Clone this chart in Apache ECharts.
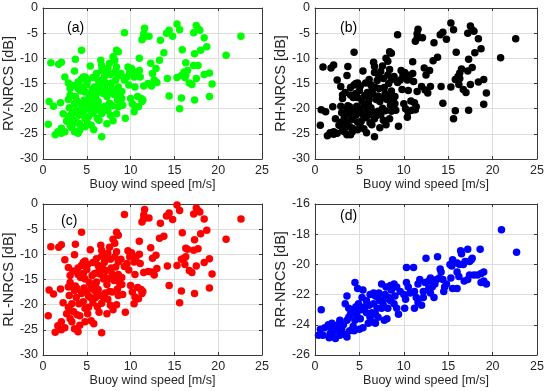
<!DOCTYPE html>
<html><head><meta charset="utf-8">
<script src="https://cdn.jsdelivr.net/npm/echarts@6/dist/echarts.min.js"></script>
<style>html,body{margin:0;padding:0;background:#fff}#c{width:550px;height:391px}</style>
</head><body><div id="c"></div>
<script>
// Buoy wind speed [m/s] vs NRCS [dB]
const rvData = [[0.9,-10.9],[0.7,-18.6],[0.6,-23.1],[1.2,-19.5],[1.8,-11.2],[2.1,-10.8],[2.0,-18.8],[1.4,-25.2],[1.7,-24.6],[2.1,-23.9],[2.5,-13.7],[2.9,-14.9],[3.1,-16.0],[3.1,-17.3],[2.9,-18.2],[3.3,-21.0],[2.9,-21.6],[3.5,-22.3],[3.1,-23.3],[3.7,-10.2],[3.6,-12.5],[4.0,-14.7],[4.4,-14.1],[4.6,-13.7],[4.4,-8.4],[3.7,-17.6],[3.6,-19.0],[3.8,-20.3],[4.1,-21.3],[4.0,-24.9],[3.6,-24.6],[4.2,-24.3],[2.5,-24.6],[2.1,-24.9],[4.6,-15.7],[4.8,-16.7],[4.7,-18.3],[5.0,-19.0],[4.8,-13.7],[5.1,-14.3],[4.6,-20.6],[4.8,-21.9],[5.1,-22.9],[4.8,-23.6],[5.3,-17.3],[5.5,-18.3],[5.2,-19.6],[5.7,-20.9],[5.5,-23.3],[5.2,-21.6],[5.9,-15.7],[6.1,-17.0],[6.1,-13.0],[6.3,-14.3],[6.3,-18.6],[6.5,-19.6],[6.7,-21.0],[6.4,-22.3],[6.6,-10.4],[6.7,-11.4],[6.7,-12.4],[6.7,-25.6],[7.0,-13.7],[7.2,-15.0],[7.1,-16.3],[7.3,-17.6],[7.4,-12.0],[7.2,-12.7],[7.6,-18.9],[7.4,-20.3],[7.7,-21.3],[8.0,-9.7],[8.2,-10.4],[8.4,-8.4],[8.6,-8.7],[8.4,-11.7],[8.2,-12.7],[8.6,-13.5],[8.3,-14.3],[8.6,-15.7],[8.4,-16.7],[8.8,-17.6],[8.5,-18.3],[8.6,-19.6],[8.4,-21.0],[9.1,-19.3],[9.4,-21.9],[8.9,-13.0],[9.3,-14.3],[9.3,-4.9],[9.7,-11.7],[9.9,-12.7],[9.6,-13.7],[10.2,-12.4],[10.4,-13.7],[10.5,-15.7],[10.2,-19.0],[10.5,-19.6],[10.4,-20.6],[10.8,-17.6],[10.9,-19.6],[10.6,-13.0],[11.0,-12.4],[11.0,-10.0],[11.1,-13.7],[11.2,-18.0],[11.4,-18.3],[11.3,-18.6],[11.5,-15.5],[11.6,-4.0],[11.5,-5.1],[11.3,-6.3],[12.1,-5.6],[12.0,-15.0],[12.3,-11.0],[12.5,-13.0],[12.7,-14.3],[12.9,-12.0],[13.3,-10.4],[13.4,-6.4],[13.8,-8.9],[14.1,-5.0],[14.4,-4.4],[14.8,-5.6],[14.2,-14.0],[14.4,-17.5],[15.3,-3.2],[15.6,-4.3],[15.3,-13.8],[15.8,-13.4],[15.6,-20.0],[15.8,-17.9],[15.9,-8.3],[16.1,-12.7],[16.3,-13.4],[16.2,-13.8],[16.5,-12.4],[16.3,-10.9],[16.7,-14.9],[17.0,-15.2],[17.2,-4.9],[17.5,-3.5],[17.7,-4.1],[17.9,-4.4],[17.3,-9.1],[17.2,-11.4],[17.7,-11.4],[17.3,-18.3],[17.5,-14.0],[18.0,-8.4],[18.4,-5.9],[18.7,-7.7],[18.4,-13.2],[19.0,-12.9],[19.0,-17.6],[19.3,-15.1],[20.9,-9.4],[22.6,-5.6],
[3.3,-23.8],[2.7,-22.5],[3.9,-22.8],[5.6,-16.2],[6.0,-20.3],[6.9,-17.0],[7.8,-14.9],[7.9,-16.0],[6.2,-21.9],[5.8,-24.2],[7.6,-11.0],[9.0,-16.6],[10.0,-18.0],[9.8,-15.3],[12.4,-15.5],[13.0,-14.8],[10.1,-12.0],[4.3,-16.5],[3.4,-15.4],[7.1,-19.5],[8.0,-22.4],[7.3,-23.0],[6.5,-16.0],[5.4,-11.5],[11.5,-5.8],
[2.3,-21.0],[3.0,-19.8],[3.9,-18.5],[4.4,-19.5],[5.9,-19.0],[6.0,-17.8],[6.8,-14.8],[7.5,-16.8],[8.1,-17.2],[5.4,-20.2],[4.2,-23.0],[3.2,-22.4],[6.9,-20.4],[7.9,-19.4],[9.0,-18.0],[5.0,-15.2],[5.7,-13.8],[6.4,-15.3],[4.0,-16.0],[7.7,-13.2]];

const rhData = [[0.9,-11.7],[0.7,-20.2],[0.6,-23.3],[1.2,-20.6],[1.8,-11.9],[2.1,-11.3],[2.0,-19.6],[1.4,-25.4],[1.7,-24.8],[2.1,-24.6],[2.5,-14.3],[2.9,-15.6],[3.1,-17.3],[3.1,-18.0],[2.9,-19.5],[3.3,-21.8],[2.9,-22.7],[3.5,-22.8],[3.1,-24.0],[3.7,-11.6],[3.6,-13.4],[4.0,-15.8],[4.4,-15.3],[4.6,-15.0],[4.4,-8.8],[3.7,-19.4],[3.6,-20.0],[3.8,-21.0],[4.1,-22.2],[4.0,-25.2],[3.6,-25.2],[4.2,-24.6],[2.5,-24.9],[2.1,-25.1],[4.6,-17.0],[4.8,-17.8],[4.7,-19.5],[5.0,-20.0],[4.8,-14.9],[5.1,-15.5],[4.6,-21.3],[4.8,-22.7],[5.1,-23.6],[4.8,-24.2],[5.3,-18.5],[5.5,-19.4],[5.2,-20.7],[5.7,-21.8],[5.5,-24.0],[5.2,-22.5],[5.9,-16.8],[6.1,-18.2],[6.1,-14.2],[6.3,-15.3],[6.3,-19.8],[6.5,-20.6],[6.7,-22.0],[6.4,-23.2],[6.6,-10.8],[6.7,-11.6],[6.7,-12.8],[6.7,-25.6],[7.0,-14.4],[7.2,-16.0],[7.1,-17.5],[7.3,-18.6],[7.4,-12.6],[7.2,-13.6],[7.6,-19.9],[7.4,-21.2],[7.7,-22.3],[8.0,-10.0],[8.2,-10.6],[8.4,-8.7],[8.6,-9.0],[8.4,-12.2],[8.2,-13.3],[8.6,-14.2],[8.3,-15.0],[8.6,-16.5],[8.4,-17.7],[8.8,-18.4],[8.5,-19.3],[8.6,-20.5],[8.4,-22.0],[9.1,-20.3],[9.4,-23.5],[8.9,-13.6],[9.3,-14.8],[9.3,-5.3],[9.7,-12.4],[9.9,-13.4],[9.6,-14.3],[10.2,-13.1],[10.4,-14.3],[10.5,-16.4],[10.2,-20.0],[10.5,-20.6],[10.4,-21.7],[10.8,-18.5],[10.9,-20.3],[10.6,-13.6],[11.0,-13.0],[11.0,-10.7],[11.1,-14.6],[11.2,-18.8],[11.4,-19.6],[11.3,-20.2],[11.5,-16.6],[11.6,-4.2],[11.5,-5.1],[11.3,-6.6],[12.1,-5.9],[12.0,-15.6],[12.3,-11.9],[12.5,-13.3],[12.7,-16.9],[12.9,-12.4],[13.3,-10.5],[13.4,-6.9],[13.8,-9.8],[14.1,-5.3],[14.4,-4.8],[14.8,-6.2],[14.2,-15.6],[14.4,-18.9],[15.3,-3.0],[15.6,-4.3],[15.3,-15.7],[15.8,-14.2],[15.6,-22.0],[15.8,-20.4],[15.9,-8.8],[16.1,-13.6],[16.3,-14.0],[16.2,-15.2],[16.5,-12.1],[16.3,-12.9],[16.7,-16.2],[17.0,-16.8],[17.2,-5.0],[17.5,-3.6],[17.7,-4.3],[17.9,-4.6],[17.3,-10.2],[17.2,-12.5],[17.7,-11.8],[17.3,-20.3],[17.5,-15.2],[18.0,-8.9],[18.4,-6.1],[18.7,-8.1],[18.4,-14.7],[19.0,-14.2],[19.0,-19.1],[19.3,-16.9],[20.9,-9.9],[22.6,-6.1],
[3.3,-24.6],[2.7,-23.3],[3.9,-23.6],[5.6,-17.4],[6.0,-21.3],[6.9,-18.2],[7.8,-15.8],[7.9,-17.0],[6.2,-22.8],[5.8,-24.8],[7.6,-11.5],[9.0,-17.6],[10.0,-19.0],[9.8,-16.2],[12.4,-16.3],[13.0,-15.6],[10.1,-12.8],[4.3,-17.8],[3.4,-16.8],[7.1,-20.5],[8.0,-23.2],[7.3,-23.8],[6.5,-17.1],[5.4,-12.5],[11.5,-6.0],
[2.3,-22.0],[3.0,-20.8],[3.9,-19.6],[4.4,-20.5],[5.9,-20.1],[6.0,-18.9],[6.8,-15.8],[7.5,-17.9],[8.1,-18.2],[5.4,-21.2],[4.2,-23.9],[3.2,-23.2],[6.9,-21.4],[7.9,-20.4],[9.0,-19.0],[5.0,-16.4],[5.7,-14.9],[6.4,-16.4],[4.0,-17.3],[7.7,-14.0]];

const rlData = [[0.9,-8.5],[0.7,-17.1],[0.6,-22.2],[1.2,-17.9],[1.8,-8.6],[2.1,-8.1],[2.0,-16.9],[1.4,-25.5],[1.7,-24.2],[2.1,-23.4],[2.5,-11.1],[2.9,-12.6],[3.1,-14.2],[3.1,-15.6],[2.9,-16.5],[3.3,-19.8],[2.9,-20.5],[3.5,-21.4],[3.1,-22.8],[3.7,-8.0],[3.6,-10.1],[4.0,-12.7],[4.4,-12.2],[4.6,-11.6],[4.4,-5.6],[3.7,-16.3],[3.6,-17.2],[3.8,-18.6],[4.1,-19.8],[4.0,-25.4],[3.6,-24.8],[4.2,-24.1],[2.5,-24.6],[2.1,-25.0],[4.6,-13.8],[4.8,-14.9],[4.7,-16.7],[5.0,-17.5],[4.8,-11.3],[5.1,-12.0],[4.6,-19.4],[4.8,-20.7],[5.1,-21.8],[4.8,-23.4],[5.3,-15.6],[5.5,-16.8],[5.2,-18.3],[5.7,-19.6],[5.5,-23.2],[5.2,-20.5],[5.9,-13.8],[6.1,-15.5],[6.1,-10.9],[6.3,-12.2],[6.3,-17.0],[6.5,-18.2],[6.7,-19.7],[6.4,-21.5],[6.6,-8.2],[6.7,-9.2],[6.7,-10.4],[6.7,-25.6],[7.0,-11.6],[7.2,-13.2],[7.1,-14.6],[7.3,-16.0],[7.4,-9.8],[7.2,-10.7],[7.6,-17.4],[7.4,-18.9],[7.7,-20.1],[8.0,-7.0],[8.2,-7.8],[8.4,-5.6],[8.6,-6.2],[8.4,-9.5],[8.2,-10.5],[8.6,-11.5],[8.3,-12.5],[8.6,-14.0],[8.4,-15.2],[8.8,-16.0],[8.5,-16.9],[8.6,-18.2],[8.4,-20.0],[9.1,-18.0],[9.4,-21.5],[8.9,-11.0],[9.3,-12.4],[9.3,-2.1],[9.7,-9.3],[9.9,-10.5],[9.6,-11.8],[10.2,-10.2],[10.4,-11.5],[10.5,-14.0],[10.2,-17.5],[10.5,-18.5],[10.4,-19.8],[10.8,-16.6],[10.9,-18.8],[10.6,-10.9],[11.0,-10.0],[11.0,-7.4],[11.1,-11.8],[11.2,-17.0],[11.4,-17.4],[11.3,-17.8],[11.5,-13.6],[11.6,-1.1],[11.5,-2.2],[11.3,-3.6],[12.1,-2.8],[12.0,-13.4],[12.3,-8.7],[12.5,-10.8],[12.7,-14.1],[12.9,-10.2],[13.3,-6.8],[13.4,-3.8],[13.8,-6.4],[14.1,-2.4],[14.4,-1.8],[14.8,-3.1],[14.2,-12.3],[14.4,-16.2],[15.3,-0.2],[15.6,-1.3],[15.3,-12.2],[15.8,-11.0],[15.6,-19.6],[15.8,-17.3],[15.9,-5.7],[16.1,-10.8],[16.3,-10.5],[16.2,-12.0],[16.5,-9.0],[16.3,-8.8],[16.7,-13.2],[17.0,-13.6],[17.2,-2.0],[17.5,-0.8],[17.7,-1.3],[17.9,-1.6],[17.3,-7.1],[17.2,-9.2],[17.7,-8.9],[17.3,-17.8],[17.5,-12.3],[18.0,-5.9],[18.4,-3.0],[18.7,-5.2],[18.4,-11.6],[19.0,-10.9],[19.0,-16.7],[19.3,-13.9],[20.9,-7.0],[22.6,-3.0],
[3.3,-23.4],[2.7,-21.8],[3.9,-22.0],[5.6,-14.2],[6.0,-18.6],[6.9,-14.9],[7.8,-12.7],[7.9,-13.9],[6.2,-20.4],[5.8,-23.8],[7.6,-8.6],[9.0,-14.6],[10.0,-16.2],[9.8,-13.1],[12.4,-13.5],[13.0,-12.8],[10.1,-9.7],[4.3,-14.6],[3.4,-13.3],[7.1,-17.7],[8.0,-21.0],[7.3,-21.8],[6.5,-13.9],[5.4,-9.1],[11.5,-3.0],
[2.3,-19.6],[3.0,-18.2],[3.9,-16.8],[4.4,-17.8],[5.9,-17.2],[6.0,-16.0],[6.8,-12.8],[7.5,-14.8],[8.1,-15.2],[5.4,-18.6],[4.2,-22.2],[3.2,-21.2],[6.9,-18.6],[7.9,-17.5],[9.0,-16.0],[5.0,-13.0],[5.7,-11.6],[6.4,-13.2],[4.0,-14.0],[7.7,-11.0]];

const rrData = [[0.4,-24.7],[0.9,-24.7],[0.7,-23.0],[0.6,-24.3],[1.1,-24.2],[1.5,-24.1],[1.7,-24.6],[1.9,-24.4],[1.5,-24.0],[1.9,-23.9],[1.6,-24.85],[2.1,-24.1],[2.4,-24.2],[2.6,-24.0],[2.8,-23.7],[2.3,-24.9],[2.8,-24.7],[3.2,-24.6],[3.5,-24.7],[3.4,-22.6],[3.6,-22.1],[3.2,-24.0],[3.6,-23.7],[3.8,-23.5],[4.0,-23.3],[3.6,-24.8],[4.5,-21.2],[4.3,-24.1],[4.5,-23.7],[4.7,-23.3],[4.9,-23.0],[5.1,-23.6],[4.8,-21.6],[5.4,-21.7],[4.9,-22.6],[5.3,-22.2],[5.4,-24.2],[5.6,-22.8],[5.8,-22.4],[6.1,-22.7],[6.4,-23.2],[6.2,-23.5],[6.4,-23.8],[6.8,-23.9],[6.8,-22.1],[7.1,-22.2],[7.3,-22.4],[7.5,-21.3],[6.8,-23.3],[7.1,-23.5],[7.5,-22.9],[7.7,-22.7],[7.8,-23.7],[8.1,-23.6],[7.9,-22.0],[8.3,-22.2],[8.5,-22.4],[8.6,-21.7],[8.5,-21.4],[8.9,-21.3],[8.9,-22.6],[9.2,-22.9],[9.4,-23.3],[10.0,-22.0],[10.2,-22.3],[10.3,-20.2],[11.1,-20.2],[10.1,-22.9],[11.2,-22.9],[10.3,-21.2],[10.5,-21.5],[10.7,-21.9],[11.2,-21.8],[11.4,-22.2],[11.6,-22.5],[11.6,-21.3],[12.0,-22.7],[12.2,-21.8],[12.5,-19.6],[12.4,-21.2],[12.8,-21.1],[13.0,-20.9],[13.2,-21.5],[13.5,-21.3],[13.7,-21.0],[13.8,-19.5],[14.1,-20.3],[14.2,-20.5],[14.4,-21.0],[14.6,-21.5],[14.5,-21.8],[14.8,-21.3],[15.4,-20.1],[15.5,-19.7],[15.5,-21.6],[16.0,-21.6],[16.0,-20.5],[16.2,-20.8],[16.0,-19.9],[16.3,-20.0],[16.4,-19.1],[16.5,-19.3],[16.7,-20.0],[16.9,-19.8],[17.2,-19.0],[17.4,-19.8],[17.6,-19.7],[17.7,-19.6],[17.2,-21.0],[17.4,-20.7],[17.9,-20.7],[18.3,-20.7],[18.7,-20.6],[19.0,-20.5],[18.6,-19.0],[18.7,-21.2],[19.0,-21.1],[19.3,-21.3],[21.0,-17.7],[22.7,-19.2],
[2.0,-24.5],[3.0,-24.3],[4.2,-23.0],[4.6,-22.8],[5.2,-23.0],[5.8,-23.2],[6.0,-23.9],[6.6,-22.6],[7.0,-22.9],[7.2,-21.9],[7.8,-22.3],[8.2,-22.9],[5.0,-24.3],[6.2,-22.0],[9.6,-21.8],[9.0,-22.1],[3.9,-24.4],[4.4,-24.4],[2.6,-24.4],[8.0,-21.5],[6.6,-21.9],[3.8,-22.9],[9.2,-21.5],[13.4,-22.2],[12.8,-21.6],[11.8,-21.0],[14.0,-20.9],[15.2,-20.0],[15.3,-20.9],[16.8,-21.1],[13.0,-21.9],[12.2,-22.2]];

const panelLabels = ['(a)','(b)','(c)','(d)'];
const yNames = ['RV-NRCS [dB]','RH-NRCS [dB]','RL-NRCS [dB]','RR-NRCS [dB]'];
const xName = 'Buoy wind speed [m/s]';
const xTicks = {min:0, max:25, interval:5};
const yTicksTop = {min:-30, max:0, interval:5};
const yTicksRR = {min:-26, max:-16, interval:2};

const colors = ['#00ff00','#000000','#ff0000','#0000ff'];
const datas = [rvData, rhData, rlData, rrData];
const yRanges = [yTicksTop, yTicksTop, yTicksTop, yTicksRR];

const FONT = 'Liberation Sans, Arial, sans-serif';
const AX = '#3a3a3a';
const grids = [
  {left:42, top:8, width:220, height:151},
  {left:315, top:8, width:222, height:151},
  {left:42, top:204, width:220, height:151},
  {left:315, top:204, width:222, height:151}
];
const titlePos = [{left:62,top:16},{left:335,top:16},{left:56,top:209},{left:335,top:204}];

const xAxes = [], yAxes = [], series = [], titles = [];
grids.forEach((g, i) => {
  xAxes.push({
    gridIndex:i, type:'value', min:xTicks.min, max:xTicks.max, interval:xTicks.interval,
    name:xName, nameLocation:'middle', nameGap:18,
    nameTextStyle:{fontFamily:FONT, fontSize:12.5, color:'#262626'},
    axisLine:{show:true, onZero:false, lineStyle:{color:AX, width:1}},
    axisTick:{show:true, inside:true, length:3, lineStyle:{color:AX}},
    axisLabel:{fontFamily:FONT, fontSize:12.5, color:'#262626', margin:5},
    splitLine:{show:true, lineStyle:{color:'#dedede', width:1}}
  });
  xAxes.push({
    gridIndex:i, type:'value', position:'top', min:xTicks.min, max:xTicks.max, interval:xTicks.interval,
    axisLine:{show:true, onZero:false, lineStyle:{color:AX, width:1}},
    axisTick:{show:true, inside:true, length:3, lineStyle:{color:AX}},
    axisLabel:{show:false}, splitLine:{show:false}
  });
  const yr = yRanges[i];
  yAxes.push({
    gridIndex:i, type:'value', min:yr.min, max:yr.max, interval:yr.interval,
    name:yNames[i], nameLocation:'middle', nameGap:25, nameRotate:90,
    nameTextStyle:{fontFamily:FONT, fontSize:14.5, color:'#262626'},
    axisLine:{show:true, onZero:false, lineStyle:{color:AX, width:1}},
    axisTick:{show:true, inside:true, length:3, lineStyle:{color:AX}},
    axisLabel:{fontFamily:FONT, fontSize:12.5, color:'#262626', margin:5},
    splitLine:{show:true, lineStyle:{color:'#dedede', width:1}}
  });
  yAxes.push({
    gridIndex:i, type:'value', position:'right', min:yr.min, max:yr.max, interval:yr.interval,
    axisLine:{show:true, onZero:false, lineStyle:{color:AX, width:1}},
    axisTick:{show:true, inside:true, length:3, lineStyle:{color:AX}},
    axisLabel:{show:false}, splitLine:{show:false}
  });
  series.push({
    type:'scatter', xAxisIndex:2*i, yAxisIndex:2*i, data:datas[i],
    symbol:'circle', symbolSize:7.5, itemStyle:{color:colors[i], opacity:1},
    silent:true, animation:false
  });
  titles.push({text:panelLabels[i], left:titlePos[i].left, top:titlePos[i].top,
    textStyle:{fontFamily:FONT, fontSize:14, fontWeight:'normal', color:'#000'}});
});

const chart = echarts.init(document.getElementById('c'), null, {renderer:'canvas'});
chart.setOption({
  animation:false, backgroundColor:'#fff',
  title:titles, grid:grids, xAxis:xAxes, yAxis:yAxes, series:series
});
</script></body></html>
